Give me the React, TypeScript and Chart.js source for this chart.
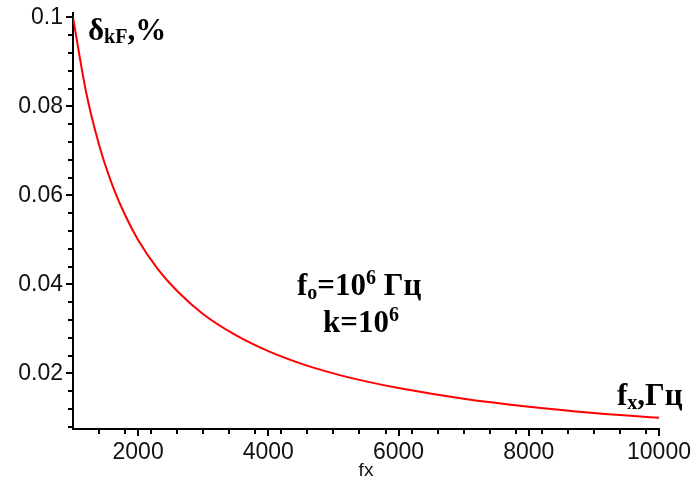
import React, { useEffect, useRef } from "react";
import { Chart, registerables } from "chart.js";

Chart.register(...registerables);

// Data
const fxValues = [1000, 1200, 1400, 1600, 1800, 2000, 2300, 2600, 3000, 3500, 4000, 4500, 5000, 5500, 6000, 7000, 8000, 9000, 10000];
const deltaValues = [0.1, 0.0833, 0.0714, 0.0625, 0.0556, 0.05, 0.0435, 0.0385, 0.0333, 0.0286, 0.025, 0.0222, 0.02, 0.0182, 0.0167, 0.0143, 0.0125, 0.0111, 0.01];

const xMajorTicks = [2000, 4000, 6000, 8000, 10000];
const yMajorTicks = [0.02, 0.04, 0.06, 0.08, 0.1];
const xMinorStep = 400;
const yMinorStep = 0.004;

const SERIF = '"Liberation Serif", "Times New Roman", serif';
const SANS = '"Liberation Sans", Arial, sans-serif';

type Seg = { t: string; size: number; dy: number };

const annotations: { x: number; y: number; segs: Seg[] }[] = [
  {
    x: 1230, y: 0.0949,
    segs: [
      { t: "δ", size: 31, dy: 0 },
      { t: "kF", size: 20, dy: 3 },
      { t: ",%", size: 31, dy: 0 },
    ],
  },
  {
    x: 4440, y: 0.0376,
    segs: [
      { t: "f", size: 31, dy: 0 },
      { t: "o", size: 20, dy: 4 },
      { t: "=10", size: 31, dy: 0 },
      { t: "6", size: 20, dy: -11 },
      { t: " Гц", size: 31, dy: 0 },
    ],
  },
  {
    x: 4840, y: 0.0293,
    segs: [
      { t: "k=10", size: 31, dy: 0 },
      { t: "6", size: 20, dy: -11 },
    ],
  },
  {
    x: 9355, y: 0.0129,
    segs: [
      { t: "f", size: 31, dy: 0 },
      { t: "x", size: 20, dy: 4 },
      { t: ",Гц", size: 31, dy: 0 },
    ],
  },
];

const extrasPlugin = {
  id: "extras",
  afterDraw(chart: any) {
    const { ctx, chartArea, scales } = chart;
    const xs = scales.x;
    const ys = scales.y;
    ctx.save();
    // minor ticks
    ctx.strokeStyle = "#000";
    ctx.lineWidth = 2;
    ctx.beginPath();
    for (let i = 1; i * xMinorStep + xs.min <= xs.max + 1e-6; i++) {
      const v = xs.min + i * xMinorStep;
      if (Math.abs(v % 2000) < 1e-6) continue;
      const px = Math.round(xs.getPixelForValue(v));
      ctx.moveTo(px, chartArea.bottom);
      ctx.lineTo(px, chartArea.bottom + 5);
    }
    for (let i = 2; i <= 25; i++) {
      if (i % 5 === 0) continue;
      const v = i * yMinorStep;
      const py = Math.round(ys.getPixelForValue(v));
      ctx.moveTo(chartArea.left, py);
      ctx.lineTo(chartArea.left - 5, py);
    }
    ctx.stroke();

    // annotations
    ctx.fillStyle = "#000";
    ctx.textBaseline = "alphabetic";
    ctx.textAlign = "left";
    for (const a of annotations) {
      let px = xs.getPixelForValue(a.x);
      const py = ys.getPixelForValue(a.y);
      for (const s of a.segs) {
        ctx.font = `bold ${s.size}px ${SERIF}`;
        ctx.fillText(s.t, px, py + s.dy);
        px += ctx.measureText(s.t).width;
      }
    }
    ctx.restore();
  },
};

export default function App() {
  const ref = useRef<HTMLCanvasElement | null>(null);
  useEffect(() => {
    if (!ref.current) return;
    const chart = new Chart(ref.current, {
      type: "line",
      data: {
        datasets: [
          {
            data: fxValues.map((x, i) => ({ x, y: deltaValues[i] })),
            borderColor: "#ff0000",
            borderWidth: 2,
            pointRadius: 0,
            cubicInterpolationMode: "monotone",
            fill: false,
          },
        ],
      },
      options: {
        animation: false,
        responsive: false,
        layout: { padding: { left: 0, right: 32, top: 13, bottom: 0 } },
        plugins: { legend: { display: false }, tooltip: { enabled: false } },
        scales: {
          x: {
            type: "linear",
            min: 1000,
            max: 10000,
            afterBuildTicks: (scale: any) => {
              scale.ticks = xMajorTicks.map((v) => ({ value: v }));
            },
            afterFit: (scale: any) => {
              scale.height = 56;
              scale.paddingLeft = 0;
              scale.paddingRight = 0;
            },
            ticks: {
              color: "#111",
              font: { family: SANS, size: 23 },
              padding: 3,
              maxRotation: 0,
              autoSkip: false,
              callback: (v: any) => String(v),
            },
            grid: { drawOnChartArea: false, drawTicks: true, tickLength: 7, color: "#000", lineWidth: 2 },
            border: { display: true, color: "#000", width: 2 },
            title: { display: true, text: "fx", color: "#111", font: { family: SANS, size: 19 }, padding: { top: 0, bottom: 3 } },
          },
          y: {
            type: "linear",
            min: 0.0075,
            max: 0.101,
            afterBuildTicks: (scale: any) => {
              scale.ticks = yMajorTicks.map((v) => ({ value: v }));
            },
            afterFit: (scale: any) => {
              scale.width = 73;
              scale.paddingTop = 0;
              scale.paddingBottom = 0;
            },
            ticks: {
              color: "#111",
              font: { family: SANS, size: 23 },
              padding: 3,
              autoSkip: false,
              callback: (v: any) => String(v),
            },
            grid: { drawOnChartArea: false, drawTicks: true, tickLength: 7, color: "#000", lineWidth: 2 },
            border: { display: true, color: "#000", width: 2 },
          },
        },
      },
      plugins: [extrasPlugin],
    } as any);
    return () => chart.destroy();
  }, []);
  return (
    <div style={{ position: "fixed", left: 0, top: 0, width: 691, height: 485, background: "#fff" }}>
      <canvas ref={ref} width={691} height={485} style={{ width: 691, height: 485, display: "block" }} />
    </div>
  );
}
